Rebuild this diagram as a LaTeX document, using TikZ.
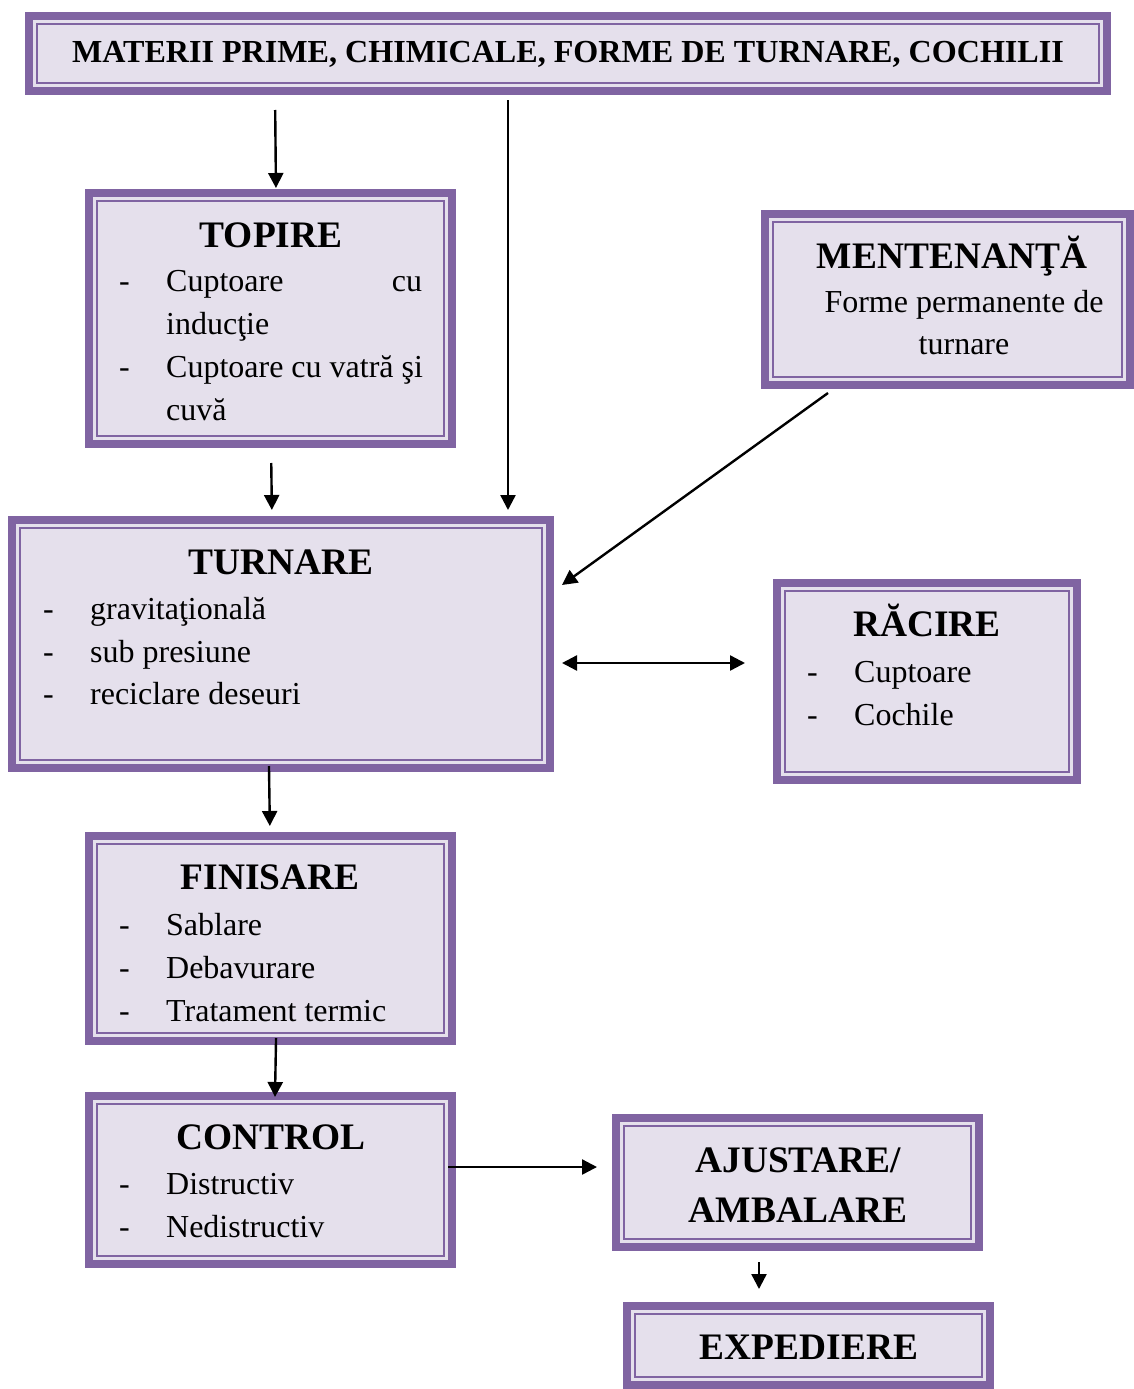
\documentclass[tikz,border=0pt]{standalone}
\usepackage{fontspec}
\setmainfont{Liberation Serif}
\usetikzlibrary{arrows.meta,calc}
\definecolor{boxpurple}{HTML}{8064A2}
\definecolor{boxfill}{HTML}{E5E0EC}
\begin{document}
\begin{tikzpicture}[x=1pt,y=-1pt,
  box/.style={draw=boxpurple, line width=8pt, fill=boxfill, inner sep=0pt, outer sep=0pt, rectangle,
    path picture={\draw[boxpurple, line width=2pt]
      ([shift={(8pt,-8pt)}]path picture bounding box.north west) rectangle
      ([shift={(-8pt,8pt)}]path picture bounding box.south east);}},
  hdr/.style={font=\fontsize{32.1}{38}\selectfont\bfseries, anchor=base, inner sep=0pt},
  ttl/.style={font=\fontsize{37.4}{43}\selectfont\bfseries, anchor=base, inner sep=0pt},
  itm/.style={font=\fontsize{32}{43}\selectfont, anchor=base west, inner sep=0pt},
  ctr/.style={font=\fontsize{32}{43}\selectfont, anchor=base, inner sep=0pt},
  arr/.style={-{Triangle[length=15pt,width=15pt]}, line width=2.4pt},
  biarr/.style={{Triangle[length=15pt,width=15pt]}-{Triangle[length=15pt,width=15pt]}, line width=2.4pt}
]
\useasboundingbox (0,0) rectangle (1134,1389);
\newcommand{\dsh}{\makebox[47pt][l]{-}}

% boxes
\node[box, minimum width=1078pt, minimum height=75pt] (top) at (568,53.5) {};
\node[box, minimum width=363pt, minimum height=251pt] (topire) at (270.5,318.5) {};
\node[box, minimum width=365pt, minimum height=171pt] (ment) at (947.5,299.5) {};
\node[box, minimum width=538pt, minimum height=248pt] (turnare) at (281,644) {};
\node[box, minimum width=300pt, minimum height=197pt] (racire) at (927,681.5) {};
\node[box, minimum width=363pt, minimum height=205pt] (finisare) at (270.5,938.5) {};
\node[box, minimum width=363pt, minimum height=168pt] (control) at (270.5,1180) {};
\node[box, minimum width=363pt, minimum height=129pt] (ajustare) at (797.5,1182.5) {};
\node[box, minimum width=363pt, minimum height=79pt] (expediere) at (808.5,1345.5) {};

% texts
\node[hdr] (topT) at (568,63) {MATERII PRIME, CHIMICALE, FORME DE TURNARE, COCHILII};

\node[ttl] (topireT) at (271,247) {TOPIRE};
\node[itm] (topire1) at (119,291) {\dsh\makebox[256pt][l]{Cuptoare\hfill cu}};
\node[itm] (topire1b) at (166,334) {inducţie};
\node[itm] (topire2) at (119,377) {\dsh Cuptoare cu vatră şi};
\node[itm] (topire2b) at (166,420) {cuvă};

\node[ttl] (mentT) at (952,268) {MENTENANŢĂ};
\node[ctr] (ment1) at (964,312) {Forme permanente de};
\node[ctr] (ment2) at (964,354) {turnare};

\node[ttl] (turnareT) at (281,574) {TURNARE};
\node[itm] (turnare1) at (43,619) {\dsh gravitaţională};
\node[itm] (turnare2) at (43,662) {\dsh sub presiune};
\node[itm] (turnare3) at (43,704) {\dsh reciclare deseuri};

\node[ttl] (racireT) at (927,636) {RĂCIRE};
\node[itm] (racire1) at (807,682) {\dsh Cuptoare};
\node[itm] (racire2) at (807,725) {\dsh Cochile};

\node[ttl] (finisareT) at (270,889) {FINISARE};
\node[itm] (finisare1) at (119,935) {\dsh Sablare};
\node[itm] (finisare2) at (119,978) {\dsh Debavurare};
\node[itm] (finisare3) at (119,1021) {\dsh Tratament termic};

\node[ttl] (controlT) at (271,1149) {CONTROL};
\node[itm] (control1) at (119,1194) {\dsh Distructiv};
\node[itm] (control2) at (119,1237) {\dsh Nedistructiv};

\node[ttl] (ajustareT1) at (798,1172) {AJUSTARE/};
\node[ttl] (ajustareT2) at (798,1222) {AMBALARE};

\node[ttl] (expediereT) at (809,1359) {EXPEDIERE};

% connectors
\draw[arr, shorten <=19pt, shorten >=5pt] ([xshift=-293pt]top.south) -- ([xshift=5.5pt]topire.north);
\draw[arr, shorten <=9pt, shorten >=10pt] ([xshift=-60pt]top.south) -- ([xshift=227pt]turnare.north);
\draw[arr, shorten <=19pt, shorten >=10pt] ([xshift=0.5pt]topire.south) -- ([xshift=-9pt]turnare.north);
\draw[arr] ([xshift=-119.5pt,yshift=-8pt]ment.south) -- ([xshift=12pt,yshift=59pt]turnare.east);
\draw[biarr] ([xshift=12pt,yshift=-19pt]turnare.east) -- ([xshift=-32pt,yshift=18.5pt]racire.west);
\draw[arr, shorten <=-2pt, shorten >=10pt] ([xshift=-12pt]turnare.south) -- ([xshift=-0.5pt]finisare.north);
\draw[arr, shorten <=-3pt, shorten >=-1pt] ([xshift=5.5pt]finisare.south) -- ([xshift=4.5pt]control.north);
\draw[arr, shorten <=-4pt, shorten >=19pt] ([yshift=13pt]control.east) -- ([yshift=15.5pt]ajustare.west);
\draw[arr, shorten <=15pt, shorten >=17pt] ([xshift=-38.5pt]ajustare.south) -- ([xshift=-49.5pt]expediere.north);
\end{tikzpicture}
\end{document}
